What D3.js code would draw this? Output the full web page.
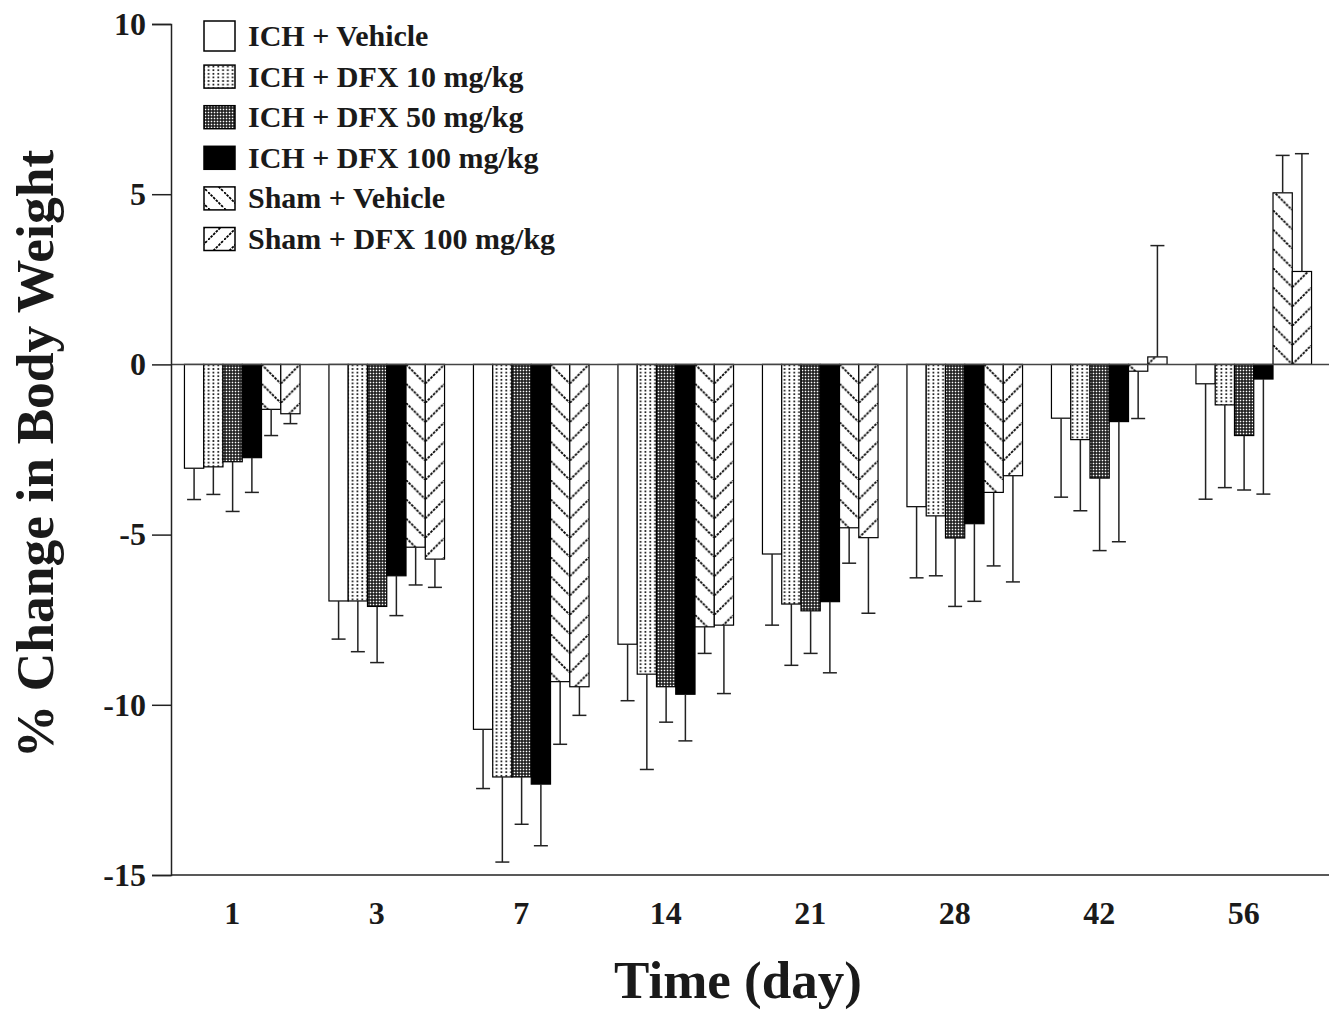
<!DOCTYPE html>
<html><head><meta charset="utf-8">
<script src="https://cdn.jsdelivr.net/npm/d3@7"></script>
<style>
html,body{margin:0;padding:0;background:#fff;}
</style></head>
<body>
<svg id="chart" width="1336" height="1012"></svg>
<script>
const categories = ["1","3","7","14","21","28","42","56"];
const seriesNames = ["ICH + Vehicle","ICH + DFX 10 mg/kg","ICH + DFX 50 mg/kg","ICH + DFX 100 mg/kg","Sham + Vehicle","Sham + DFX 100 mg/kg"];
const meanIchVehicle = [-3.05,-6.95,-10.72,-8.22,-5.57,-4.18,-1.58,-0.57];
const errIchVehicle  = [0.92,1.12,1.74,1.66,2.09,2.09,2.32,3.39];
const meanIchDfx10   = [-3.01,-6.95,-12.12,-9.10,-7.04,-4.45,-2.21,-1.19];
const errIchDfx10    = [0.81,1.49,2.50,2.80,1.80,1.76,2.09,2.43];
const meanIchDfx50   = [-2.86,-7.11,-12.12,-9.47,-7.24,-5.10,-3.34,-2.09];
const errIchDfx50    = [1.46,1.65,1.39,1.04,1.25,2.01,2.13,1.60];
const meanIchDfx100  = [-2.74,-6.21,-12.33,-9.69,-6.97,-4.68,-1.68,-0.43];
const errIchDfx100   = [1.02,1.17,1.81,1.37,2.09,2.28,3.53,3.38];
const meanShamVehicle= [-1.32,-5.37,-9.32,-7.71,-4.80,-3.76,-0.20,5.04];
const errShamVehicle = [0.77,1.11,1.84,0.78,1.04,2.16,1.39,1.10];
const meanShamDfx100 = [-1.45,-5.72,-9.47,-7.66,-5.09,-3.27,0.22,2.73];
const errShamDfx100  = [0.29,0.83,0.84,2.01,2.22,3.12,3.27,3.46];
const yTicks = [10,5,0,-5,-10,-15];

const means = [meanIchVehicle,meanIchDfx10,meanIchDfx50,meanIchDfx100,meanShamVehicle,meanShamDfx100];
const errs  = [errIchVehicle,errIchDfx10,errIchDfx50,errIchDfx100,errShamVehicle,errShamDfx100];

const FONT = '"Liberation Serif","Times New Roman",Times,serif';
function styleText(sel, size){
  return sel.style("font-family",FONT).style("font-weight","bold").style("font-size",size+"px").attr("fill","#1a1a1a");
}

const svg = d3.select("#chart");
const left = 171, right = 1329;
const y = d3.scaleLinear().domain([-15,10]).range([875,24]);
const x = d3.scaleBand().domain(categories).range([170,1326]).paddingInner(0.2).paddingOuter(0.1);
const xs = d3.scaleBand().domain(d3.range(seriesNames.length)).range([0,x.bandwidth()]);
const bw = xs.bandwidth();
const ink = "#222";

const defs = svg.append("defs");
// dots (DFX 10)
const pD = defs.append("pattern").attr("id","dots").attr("patternUnits","userSpaceOnUse").attr("width",4.8).attr("height",3.6);
pD.append("rect").attr("width",4.8).attr("height",3.6).attr("fill","#fff");
pD.append("rect").attr("x",1.4).attr("y",1).attr("width",1.7).attr("height",1.6).attr("fill","#000");
// dense checker (DFX 50)
const pC = defs.append("pattern").attr("id","checker").attr("patternUnits","userSpaceOnUse").attr("width",3).attr("height",3);
pC.append("rect").attr("width",3).attr("height",3).attr("fill","#111");
pC.append("rect").attr("x",0.7).attr("y",0.7).attr("width",1.6).attr("height",1.6).attr("fill","#fff");
// legend hatches
function hatch(id, dir, size){
  const p = defs.append("pattern").attr("id",id).attr("patternUnits","userSpaceOnUse").attr("width",size).attr("height",size);
  p.append("rect").attr("width",size).attr("height",size).attr("fill","#fff");
  p.append("path").attr("d", dir>0 ? `M0,0L${size},${size}` : `M0,${size}L${size},0`)
    .attr("stroke","#000").attr("stroke-width",1.8).attr("stroke-dasharray","2.6,1.1");
  return p;
}
hatch("legBack",1,16);
hatch("legFwd",-1,16);
// per-group hatches so that the two sham bars form chevrons
categories.forEach((c,gi)=>{
  const x4 = x(c)+xs(4), x5 = x(c)+xs(5);
  [[4,x4,1],[5,x5,-1]].forEach(([si,px,dir])=>{
    const p = defs.append("pattern").attr("id",`h${si}_${gi}`).attr("patternUnits","userSpaceOnUse")
      .attr("x",px).attr("y",y(0)).attr("width",bw).attr("height",bw);
    p.append("rect").attr("width",bw).attr("height",bw).attr("fill","#fff");
    p.append("path").attr("d", dir>0 ? `M0,0L${bw},${bw}` : `M0,${bw}L${bw},0`)
      .attr("stroke","#000").attr("stroke-width",1.8).attr("stroke-dasharray","2.6,1.1");
  });
});
function fillFor(si, gi){
  if(si===0) return "#fff";
  if(si===1) return "url(#dots)";
  if(si===2) return "url(#checker)";
  if(si===3) return "#000";
  return `url(#h${si}_${gi})`;
}

// bars
const bars = [];
categories.forEach((c,gi)=>{
  means.forEach((arr,si)=>{
    bars.push({c,gi,si,v:arr[gi],e:errs[si][gi]});
  });
});
svg.append("g").selectAll("rect.bar").data(bars).join("rect").attr("class","bar")
  .attr("x",d=>x(d.c)+xs(d.si))
  .attr("width",bw)
  .attr("y",d=>y(Math.max(0,d.v)))
  .attr("height",d=>Math.abs(y(d.v)-y(0)))
  .attr("fill",d=>fillFor(d.si,d.gi))
  .attr("stroke","#000").attr("stroke-width",1.2);

// error bars
const eb = svg.append("g").attr("stroke",ink).attr("stroke-width",1.5).attr("fill","none");
bars.forEach(d=>{
  const cx = x(d.c)+xs(d.si)+bw/2;
  const end = d.v>=0 ? d.v+d.e : d.v-d.e;
  eb.append("line").attr("x1",cx).attr("x2",cx).attr("y1",y(d.v)).attr("y2",y(end));
  eb.append("line").attr("x1",cx-7).attr("x2",cx+7).attr("y1",y(end)).attr("y2",y(end));
});

// zero line
svg.append("line").attr("x1",left).attr("x2",right).attr("y1",y(0)).attr("y2",y(0)).attr("stroke","#444").attr("stroke-width",1.5);

// y axis
const yAxis = svg.append("g").attr("transform",`translate(${left},0)`)
  .call(d3.axisLeft(y).tickValues(yTicks).tickSize(19).tickPadding(6).tickFormat(d=>String(d)));
yAxis.select(".domain").attr("stroke",ink).attr("stroke-width",1.5);
yAxis.selectAll(".tick line").attr("stroke",ink).attr("stroke-width",1.5);
styleText(yAxis.selectAll("text"),32);

// x axis
const xAxis = svg.append("g").attr("transform",`translate(0,${y(-15)})`)
  .call(d3.axisBottom(x).tickSize(0).tickPadding(26));
xAxis.select(".domain").attr("d",`M${left},0H${right}`).attr("stroke",ink).attr("stroke-width",1.5);
styleText(xAxis.selectAll("text"),32).attr("dx",-10);

// axis titles
styleText(svg.append("text").attr("x",738).attr("y",998).attr("text-anchor","middle"),53).text("Time (day)");
styleText(svg.append("text").attr("transform","translate(53,454) rotate(-90)").attr("text-anchor","middle"),53.5).text("% Change in Body Weight");

// legend
const legFills = ["#fff","url(#dots)","url(#checker)","#000","url(#legBack)","url(#legFwd)"];
const leg = svg.append("g");
seriesNames.forEach((name,i)=>{
  const cy = 36 + i*40.6;
  const h = i===0 ? 30 : 23;
  leg.append("rect").attr("x",204).attr("y",cy-h/2).attr("width",31).attr("height",h)
    .attr("fill",legFills[i]).attr("stroke","#000").attr("stroke-width",1.5);
  styleText(leg.append("text").attr("x",248).attr("y",cy+10),30).text(name);
});
</script>
</body></html>
